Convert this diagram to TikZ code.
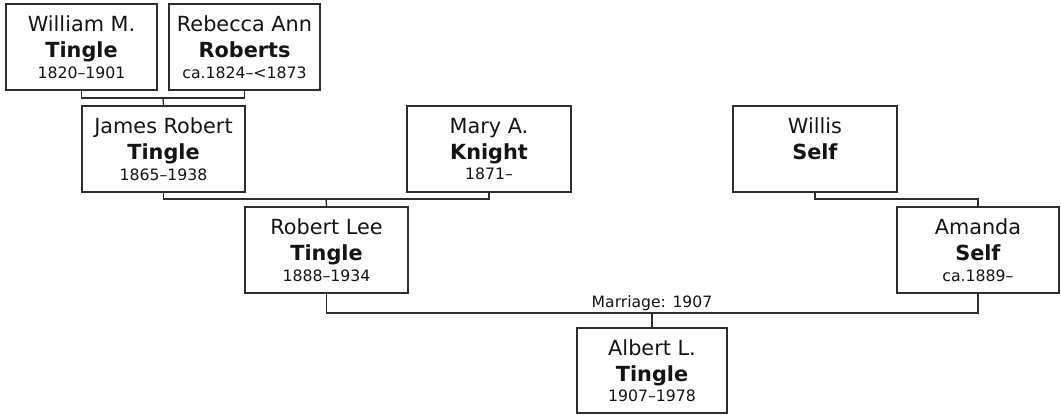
\documentclass[tikz,border=0pt]{standalone}
\usepackage{fontspec}
\usepackage{xcolor}
\usepackage{tikz}
\setmainfont{DejaVu Sans}
\definecolor{boxline}{RGB}{45,45,45}
\definecolor{inktext}{RGB}{20,20,20}
\newcommand{\yearsfont}{\fontsize{7.85}{9}\selectfont}

\begin{document}
\begin{tikzpicture}[x=0.5pt,y=-0.5pt,
    person/.style={draw=boxline,line width=0.65pt,fill=white,text=inktext,
      minimum height=43pt,inner sep=0pt,align=center,
      font=\fontsize{10.4}{13}\selectfont,
      execute at begin node=\rule{0pt}{9.6pt}},
    link/.style={draw=boxline,line width=0.65pt}]
    \useasboundingbox (0,0) rectangle (1061,415);

    % Great-grandparents
    \node[person,minimum width=75.5pt] (william) at (81.5,47)
      {William M.\\\textbf{Tingle}\\[-2.75pt]{\yearsfont 1820--1901}};
    \node[person,minimum width=75.5pt] (rebecca) at (244.5,47)
      {Rebecca Ann\\\textbf{Roberts}\\[-2.75pt]{\yearsfont ca.1824--<1873}};

    % Grandparents
    \node[person,minimum width=81.5pt] (james) at (163.5,149)
      {James Robert\\\textbf{Tingle}\\[-2.75pt]{\yearsfont 1865--1938}};
    \node[person,minimum width=82pt] (mary) at (489,149)
      {Mary A.\\\textbf{Knight}\\[-2.75pt]{\yearsfont 1871--}};
    \node[person,minimum width=82pt] (willis) at (815,149)
      {Willis\\\textbf{Self}\\[-2.75pt]{\yearsfont\vphantom{1}}};

    % Parents
    \node[person,minimum width=81.5pt] (robert) at (326.5,250)
      {Robert Lee\\\textbf{Tingle}\\[-2.75pt]{\yearsfont 1888--1934}};
    \node[person,minimum width=81pt] (amanda) at (978,250)
      {Amanda\\\textbf{Self}\\[-2.75pt]{\yearsfont ca.1889--}};

    % Child
    \node[person,minimum width=75pt,minimum height=42.5pt] (albert) at (652,370.5)
      {Albert L.\\\textbf{Tingle}\\[-2.75pt]{\yearsfont 1907--1978}};

    % Family links
    \coordinate (wrjoin) at (163,98);
    \coordinate (jmjoin) at (326,199);
    \coordinate (wsjoin) at (815,199);
    \coordinate (rajoin) at (652,313);

    \path[link] (william.south) |- (wrjoin) -| (rebecca.south);
    \path[link] (wrjoin) -- (james.north);
    \path[link] (james.south) |- (jmjoin) -| (mary.south);
    \path[link] (jmjoin) -- (robert.north);
    \path[link] (willis.south) |- (wsjoin) -| (amanda.north);
    \path[link] (robert.south) |- (rajoin) -| (amanda.south);
    \path[link] (rajoin) -- (albert.north);

    \node[above,inner sep=1pt,text=inktext,font=\fontsize{7.8}{9}\selectfont]
      (marriage) at (rajoin) {Marriage: 1907};
\end{tikzpicture}
\end{document}
